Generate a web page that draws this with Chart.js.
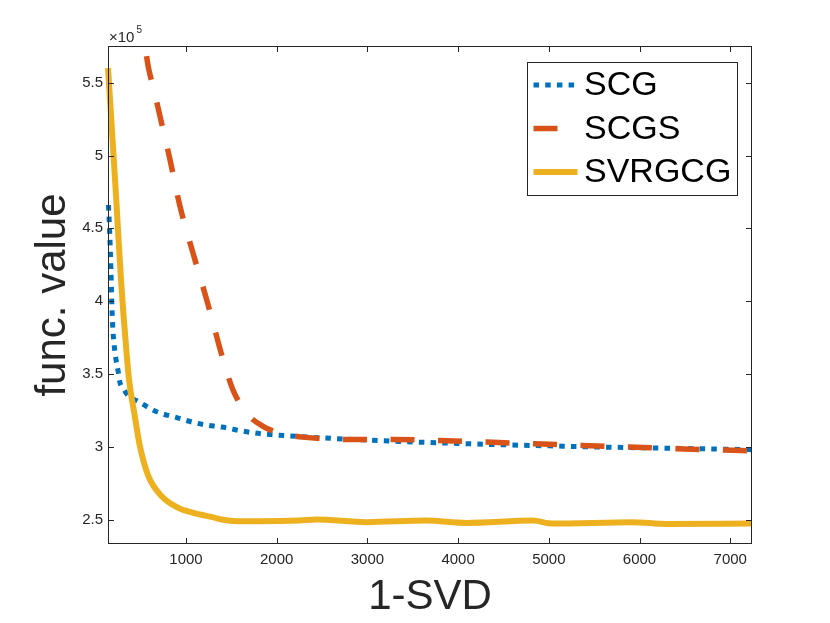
<!DOCTYPE html>
<html>
<head>
<meta charset="utf-8">
<script src="https://cdn.jsdelivr.net/npm/chart.js@4.4.0/dist/chart.umd.min.js"></script>
<style>
  html, body { margin: 0; padding: 0; background: #fff; }
</style>
</head>
<body>
<canvas id="myChart" width="830" height="623"></canvas>
<script>
// series names
const seriesNames = ['SCG', 'SCGS', 'SVRGCG'];

// SCG (dotted blue)
const scgX = [145, 160, 172, 181, 190, 209, 228, 254, 272, 309, 350, 401, 474, 567, 677, 915, 1063, 1209, 1394, 1600, 1816, 2253, 2841, 3356, 3900, 4459, 5000, 5561, 6100, 6664, 7240];
const scgY = [4.66e5, 4.45e5, 4.22e5, 4.01e5, 3.85e5, 3.69e5, 3.60e5, 3.51e5, 3.44e5, 3.40e5, 3.36e5, 3.335e5, 3.31e5, 3.276e5, 3.24e5, 3.197e5, 3.17e5, 3.15e5, 3.135e5, 3.11e5, 3.09e5, 3.07e5, 3.05e5, 3.036e5, 3.025e5, 3.014e5, 3.006e5, 2.998e5, 2.992e5, 2.986e5, 2.98e5];

// SCGS (dashed orange)
const scgsX = [450, 548, 584, 650, 713, 824, 934, 1077, 1228, 1298, 1408, 1518, 1669, 1849, 2000, 2180, 2287, 2750, 3276, 3797, 4319, 4845, 5366, 5892, 6410, 6932, 7240];
const scgsY = [6.0e5, 5.75e5, 5.61e5, 5.44e5, 5.27e5, 4.97e5, 4.65e5, 4.33e5, 4.01e5, 3.85e5, 3.60e5, 3.39e5, 3.23e5, 3.14e5, 3.10e5, 3.075e5, 3.066e5, 3.05e5, 3.05e5, 3.043e5, 3.032e5, 3.02e5, 3.009e5, 2.998e5, 2.986e5, 2.977e5, 2.972e5];

// SVRGCG (solid yellow)
const svrX = [140, 168, 195, 225, 254, 283, 309, 340, 372, 430, 493, 584, 732, 915, 1080, 1209, 1300, 1394, 1518, 1816, 2253, 2438, 2989, 3650, 4091, 4822, 5043, 5925, 6297, 7240];
const svrY = [5.60e5, 5.33e5, 5.06e5, 4.76e5, 4.45e5, 4.15e5, 3.92e5, 3.68e5, 3.46e5, 3.23e5, 3.00e5, 2.80e5, 2.66e5, 2.58e5, 2.546e5, 2.527e5, 2.515e5, 2.50e5, 2.49e5, 2.488e5, 2.493e5, 2.50e5, 2.482e5, 2.493e5, 2.477e5, 2.493e5, 2.472e5, 2.482e5, 2.47e5, 2.472e5];

// ticks
const xTicks = [1000, 2000, 3000, 4000, 5000, 6000, 7000];
const yTicks = [2.5e5, 3e5, 3.5e5, 4e5, 4.5e5, 5e5, 5.5e5];
const yTickLabels = ['2.5', '3', '3.5', '4', '4.5', '5', '5.5'];

const axisColor = '#262626';
const fontFamily = '"Liberation Sans", Arial, Helvetica, sans-serif';

function toPoints(xs, ys) {
    return xs.map((x, i) => ({ x: x, y: ys[i] }));
}

// frame, inward ticks, exponent and legend, drawn like MATLAB
const matlabAxes = {
    id: 'matlabAxes',
    afterDatasetsDraw(chart) {
        const { ctx, chartArea: a, scales: { x, y } } = chart;
        ctx.save();
        ctx.strokeStyle = axisColor;
        ctx.lineWidth = 1;
        ctx.strokeRect(a.left + 0.5, a.top + 0.5, a.right - a.left - 1, a.bottom - a.top - 1);

        ctx.beginPath();
        xTicks.forEach(v => {
            const px = Math.round(x.getPixelForValue(v)) + 0.5;
            ctx.moveTo(px, a.bottom); ctx.lineTo(px, a.bottom - 6);
            ctx.moveTo(px, a.top); ctx.lineTo(px, a.top + 6);
        });
        yTicks.forEach(v => {
            const py = Math.round(y.getPixelForValue(v)) + 0.5;
            ctx.moveTo(a.left, py); ctx.lineTo(a.left + 6, py);
            ctx.moveTo(a.right, py); ctx.lineTo(a.right - 6, py);
        });
        ctx.stroke();

        // x10^5 exponent
        ctx.fillStyle = axisColor;
        ctx.textBaseline = 'alphabetic';
        ctx.textAlign = 'left';
        ctx.font = '15px ' + fontFamily;
        ctx.fillText('\u00d710', a.left + 1, 42);
        const w = ctx.measureText('\u00d710').width;
        ctx.font = '10px ' + fontFamily;
        ctx.fillText('5', a.left + 3 + w, 33);

        // legend
        const lx = 527.5, ly = 62.5, lw = 210, lh = 133;
        ctx.fillStyle = '#fff';
        ctx.fillRect(lx, ly, lw, lh);
        ctx.strokeStyle = axisColor;
        ctx.strokeRect(lx, ly, lw, lh);
        const rows = [85, 128.5, 172];
        chart.data.datasets.forEach((ds, i) => {
            const ry = rows[i];
            ctx.save();
            ctx.strokeStyle = ds.borderColor;
            ctx.lineWidth = ds.borderWidth;
            ctx.lineCap = 'butt';
            ctx.setLineDash(ds.borderDash || []);
            ctx.beginPath();
            ctx.moveTo(533.5, ry);
            ctx.lineTo(577.5, ry);
            ctx.stroke();
            ctx.restore();
            ctx.fillStyle = '#000';
            ctx.font = '34px ' + fontFamily;
            ctx.textBaseline = 'middle';
            ctx.fillText(ds.label, 584, ry + 1);
        });
        ctx.restore();
    }
};

const ctx = document.getElementById('myChart').getContext('2d');

const myChart = new Chart(ctx, {
    type: 'line',
    data: {
        datasets: [
            {
                label: seriesNames[0],
                data: toPoints(scgX, scgY),
                borderColor: '#0072BD',
                borderWidth: 5,
                borderDash: [5.5, 6.2],
                order: 3
            },
            {
                label: seriesNames[1],
                data: toPoints(scgsX, scgsY),
                borderColor: '#D95319',
                borderWidth: 5.5,
                borderDash: [24, 23.5],
                order: 2
            },
            {
                label: seriesNames[2],
                data: toPoints(svrX, svrY),
                borderColor: '#EDB120',
                borderWidth: 6,
                order: 1
            }
        ]
    },
    options: {
        responsive: false,
        animation: false,
        events: [],
        layout: { padding: { top: 46, right: 78, left: 0, bottom: 0 } },
        elements: {
            point: { radius: 0 },
            line: { cubicInterpolationMode: 'monotone', borderCapStyle: 'butt', borderJoinStyle: 'round', fill: false }
        },
        datasets: { line: { clip: { left: 4, top: 0, right: 0, bottom: 0 } } },
        plugins: {
            legend: { display: false },
            tooltip: { enabled: false }
        },
        scales: {
            x: {
                type: 'linear',
                min: 140,
                max: 7240,
                grid: { display: false, drawTicks: false },
                border: { display: false },
                afterBuildTicks: (scale) => { scale.ticks = xTicks.map(v => ({ value: v })); },
                afterFit: (scale) => { scale.height = 79; },
                ticks: {
                    padding: 7,
                    color: axisColor,
                    font: { family: fontFamily, size: 15 },
                    maxRotation: 0,
                    autoSkip: false,
                    callback: (v) => String(v)
                },
                title: {
                    display: true,
                    text: '1-SVD',
                    color: '#262626',
                    font: { family: fontFamily, size: 42 },
                    padding: { top: 0, bottom: 0 }
                }
            },
            y: {
                type: 'linear',
                min: 2.332e5,
                max: 5.752e5,
                grid: { display: false, drawTicks: false },
                border: { display: false },
                afterBuildTicks: (scale) => { scale.ticks = yTicks.map(v => ({ value: v })); },
                afterFit: (scale) => { scale.width = 108; },
                ticks: {
                    padding: 5,
                    color: axisColor,
                    font: { family: fontFamily, size: 15 },
                    autoSkip: false,
                    callback: (v, i) => yTickLabels[i]
                },
                title: {
                    display: true,
                    text: 'func. value',
                    color: '#262626',
                    font: { family: fontFamily, size: 42 },
                    padding: { top: 28, bottom: 0 }
                }
            }
        }
    },
    plugins: [matlabAxes]
});
</script>
</body>
</html>
